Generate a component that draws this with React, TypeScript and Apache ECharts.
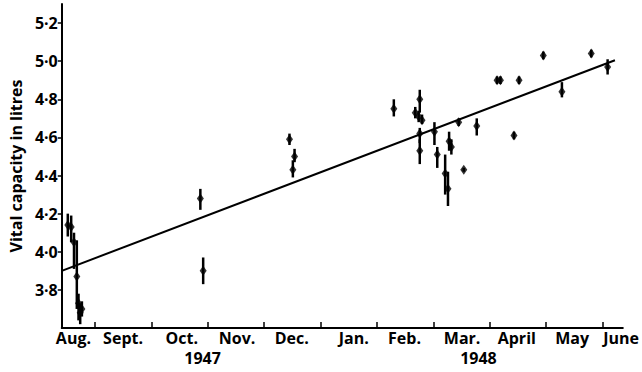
import React, { useEffect, useRef } from "react";
import * as echarts from "echarts";

// x: months after 1 Aug 1947 (1 = 1 Sept 1947, 10 = 1 June 1948)
const pointX = [0.52, 0.58, 0.63, 0.68, 0.71, 0.74, 0.77, 2.87, 2.92, 4.45, 4.54, 4.51, 6.3, 6.68, 6.74, 6.8, 6.76, 6.76, 6.76, 7.02, 7.07, 7.28, 7.32, 7.21, 7.26, 7.54, 7.45, 7.77, 8.13, 8.19, 8.52, 8.43, 8.95, 9.28, 9.8, 10.09];
const pointY = [4.14, 4.13, 4.05, 3.87, 3.73, 3.68, 3.7, 4.28, 3.9, 4.59, 4.5, 4.43, 4.75, 4.73, 4.71, 4.69, 4.8, 4.62, 4.53, 4.63, 4.51, 4.58, 4.55, 4.41, 4.33, 4.43, 4.68, 4.66, 4.9, 4.9, 4.9, 4.61, 5.03, 4.84, 5.04, 4.97];
const errLow = [4.08, 4.05, 3.91, 3.7, 3.64, 3.62, 3.66, 4.22, 3.83, 4.56, 4.47, 4.39, 4.71, 4.7, 4.68, 4.67, 4.73, 4.57, 4.46, 4.56, 4.44, 4.53, 4.51, 4.3, 4.24, 4.42, 4.66, 4.61, 4.88, 4.88, 4.88, 4.59, 5.01, 4.81, 5.02, 4.93];
const errHigh = [4.2, 4.19, 4.1, 4.06, 3.78, 3.73, 3.74, 4.33, 3.97, 4.62, 4.54, 4.48, 4.8, 4.76, 4.74, 4.72, 4.85, 4.65, 4.59, 4.68, 4.55, 4.63, 4.59, 4.51, 4.42, 4.44, 4.7, 4.7, 4.92, 4.92, 4.92, 4.63, 5.05, 4.89, 5.06, 5.01];

const regressionX = [0.413, 10.22];
const regressionY = [3.9, 5.005];

const monthNames = ["Aug.", "Sept.", "Oct.", "Nov.", "Dec.", "Jan.", "Feb.", "Mar.", "April", "May", "June"];
const monthLabelAt = [0.62, 1.5, 2.54, 3.52, 4.49, 5.59, 6.49, 7.51, 8.48, 9.46, 10.33];
const monthTicks = [1, 2, 3, 4, 5, 6, 7, 8, 9, 10];
const yearNames = ["1947", "1948"];
const yearLabelAt = [2.91, 7.8];
const yTicks = [3.8, 4.0, 4.2, 4.4, 4.6, 4.8, 5.0, 5.2];

const X_MIN = 0.413;
const X_MAX = 10.36;
const Y_MIN = 3.6;
const Y_MAX = 5.3;

const FONT = "Open Sans";

function lookup(values: number[], names: string[], v: number): string {
  for (let i = 0; i < values.length; i++) {
    if (Math.abs(values[i] - v) < 1e-6) return names[i];
  }
  return "";
}

export default function App() {
  const ref = useRef<HTMLDivElement>(null);
  useEffect(() => {
    if (!ref.current) return;
    const chart = echarts.init(ref.current, undefined, { renderer: "svg" });
    const points = pointX.map((x, i) => [x, pointY[i]]);
    const bars = pointX.map((x, i) => [x, errLow[i], errHigh[i]]);
    const reg = regressionX.map((x, i) => [x, regressionY[i]]);
    const textStyle = { color: "#000", fontFamily: FONT, fontWeight: "bold" as const, fontSize: 16 };
    chart.setOption({
      animation: false,
      backgroundColor: "#fff",
      grid: { left: 49, right: 17, top: 4, bottom: 44, containLabel: false },
      xAxis: [
        {
          type: "value",
          min: X_MIN,
          max: X_MAX,
          splitLine: { show: false },
          axisLine: { show: true, lineStyle: { color: "#000", width: 2 } },
          axisTick: { show: true, inside: true, length: 6, customValues: monthTicks, lineStyle: { color: "#000", width: 1.5 } },
          axisLabel: {
            ...textStyle,
            margin: 2,
            customValues: monthLabelAt,
            formatter: (v: number) => lookup(monthLabelAt, monthNames, v),
          },
        },
        {
          type: "value",
          position: "bottom",
          offset: 22,
          min: X_MIN,
          max: X_MAX,
          splitLine: { show: false },
          axisLine: { show: false },
          axisTick: { show: false },
          axisLabel: {
            ...textStyle,
            margin: 0,
            customValues: yearLabelAt,
            formatter: (v: number) => lookup(yearLabelAt, yearNames, v),
          },
        },
      ],
      yAxis: {
        type: "value",
        min: Y_MIN,
        max: Y_MAX,
        name: "Vital capacity in litres",
        nameLocation: "middle",
        nameGap: 30,
        nameTextStyle: { color: "#000", fontFamily: FONT, fontWeight: "bold", fontSize: 16 },
        splitLine: { show: false },
        axisLine: { show: true, lineStyle: { color: "#000", width: 2 } },
        axisTick: { show: true, inside: false, length: 4, customValues: yTicks, lineStyle: { color: "#000", width: 1.5 } },
        axisLabel: {
          ...textStyle,
          margin: 4,
          customValues: yTicks,
          formatter: (v: number) => v.toFixed(1).replace(".", "·"),
        },
      },
      series: [
        {
          type: "line",
          data: reg,
          symbol: "none",
          lineStyle: { color: "#000", width: 2 },
          xAxisIndex: 0,
          yAxisIndex: 0,
          z: 2,
        },
        {
          type: "custom",
          xAxisIndex: 0,
          yAxisIndex: 0,
          data: bars,
          encode: { x: 0, y: [1, 2] },
          renderItem: (params: any, api: any) => {
            const x = api.value(0);
            const lo = api.coord([x, api.value(1)]);
            const hi = api.coord([x, api.value(2)]);
            return {
              type: "line",
              shape: { x1: lo[0], y1: lo[1], x2: hi[0], y2: hi[1] },
              style: { stroke: "#000", lineWidth: 2.5 },
            };
          },
          z: 3,
        },
        {
          type: "scatter",
          data: points,
          symbol: "diamond",
          symbolSize: [7, 10],
          itemStyle: { color: "#000" },
          xAxisIndex: 0,
          yAxisIndex: 0,
          z: 4,
        },
      ],
    });
    return () => chart.dispose();
  }, []);
  return <div ref={ref} style={{ position: "fixed", left: 0, top: 0, width: 642, height: 372 }} />;
}
